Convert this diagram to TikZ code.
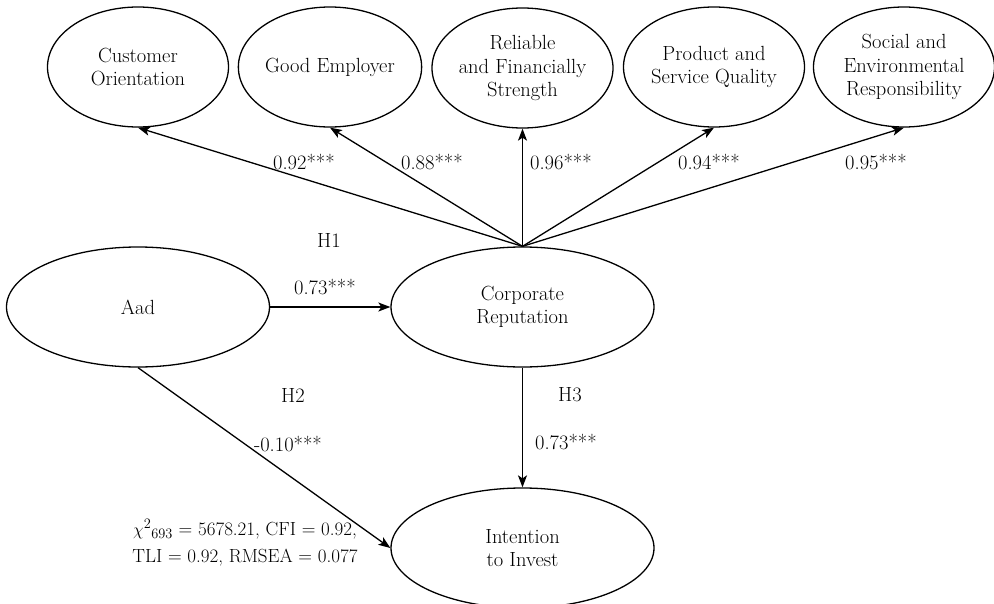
\documentclass[tikz,border=0pt]{standalone}
\usetikzlibrary{shapes.geometric,arrows.meta}
\begin{document}
\begin{tikzpicture}[x=1pt,y=-1pt,
  font=\fontsize{20.5}{23.5}\selectfont,
  lat/.style={ellipse,draw,line width=1.3pt,inner sep=0pt,align=center},
  small/.style={lat,minimum width=181pt,minimum height=120pt},
  big/.style={lat,minimum width=263pt,minimum height=120pt},
  path/.style={line width=1.3pt,-{Stealth[length=12pt,width=9pt,inset=3pt]}},
  lbl/.style={inner sep=0pt,anchor=center}]
\useasboundingbox (0,0) rectangle (994,603);
\node[small] (co) at (138,67) {Customer\\Orientation};
\node[small] (ge) at (330,67) {Good Employer};
\node[small] (rf) at (522.5,68) {Reliable\\and Financially\\Strength};
\node[small] (ps) at (714,67) {Product and\\Service Quality};
\node[small] (se) at (904,67) {Social and\\Environmental\\Responsibility};
\node[big] (aad) at (138,307) {Aad};
\node[big] (cr) at (522.5,307) {Corporate\\Reputation};
\node[big] (it) at (522.5,548) {Intention\\to Invest};
\draw[path] (cr.north) -- (co.south);
\draw[path] (cr.north) -- (ge.south);
\draw[path] (cr.north) -- (rf.south);
\draw[path] (cr.north) -- (ps.south);
\draw[path] (cr.north) -- (se.south);
\draw[path] (aad.east) -- (cr.west);
\draw[path] (aad.south) -- (it.west);
\draw[path] (cr.south) -- (it.north);
\node[lbl] (l1) at (304,162) {0.92***};
\node[lbl] (l2) at (432,162) {0.88***};
\node[lbl] (l3) at (561,162) {0.96***};
\node[lbl] (l4) at (709,162) {0.94***};
\node[lbl] (l5) at (876,162) {0.95***};
\node[lbl] (h1) at (329,240) {H1};
\node[lbl] (h1v) at (325,287) {0.73***};
\node[lbl] (h2) at (293,395) {H2};
\node[lbl] (h2v) at (288,444) {-0.10***};
\node[lbl] (h3) at (570,395) {H3};
\node[lbl] (h3v) at (566,442) {0.73***};
\node[lbl,align=center,font=\fontsize{19}{27.5}\selectfont] (fit) at (245,543)
  {$\chi^{2}{}_{693}$ = 5678.21, CFI = 0.92,\\TLI = 0.92, RMSEA = 0.077};
\end{tikzpicture}
\end{document}
